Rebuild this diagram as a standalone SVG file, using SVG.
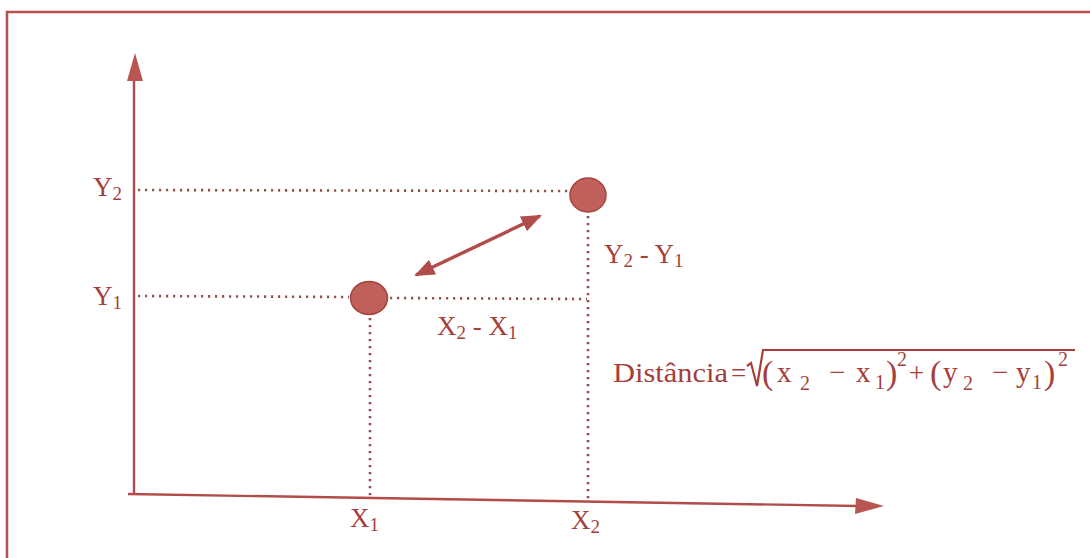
<svg xmlns="http://www.w3.org/2000/svg" width="1090" height="558" viewBox="0 0 1090 558">
<defs>
<style>
.axis{stroke:#b24c4a;stroke-width:2.4;fill:none}
.dot{stroke:#93504d;stroke-width:2.6;stroke-dasharray:2.2 4.8;fill:none}
.pt{fill:#c0605b;stroke:#a5433f;stroke-width:1.5}
.t{font-family:"Liberation Serif",serif;fill:#a53f3c}
.lab{font-size:27px}
.sub{font-size:19px}
.f{font-size:29px}
.fs{font-size:20px}
.p{font-size:34px}
</style>
<marker id="ah" viewBox="0 0 10 10" refX="9" refY="5" markerWidth="6" markerHeight="6" orient="auto-start-reverse" markerUnits="strokeWidth">
<path d="M0,1 L10,5 L0,9 Z" fill="#b24c4a"/>
</marker>
</defs>
<rect width="1090" height="558" fill="#ffffff"/>
<path d="M7,558 V12 H1090" fill="none" stroke="#b5504d" stroke-width="2.5"/>
<g id="connectors">
<line class="axis" x1="134" y1="78" x2="134" y2="495"/>
<polygon points="135,53 127,81 143,81" fill="#b95553"/>
<line class="axis" x1="128" y1="494" x2="858" y2="506"/>
<polygon points="884,506 856,498 855,514" fill="#b95553"/>
<line class="dot" x1="138" y1="190" x2="569" y2="191"/>
<line class="dot" x1="138" y1="296" x2="349" y2="297"/>
<line class="dot" x1="390" y1="298" x2="587" y2="299"/>
<line class="dot" x1="588" y1="216" x2="588" y2="499"/>
<line class="dot" x1="370" y1="318" x2="370" y2="497"/>
<line x1="416" y1="275" x2="540" y2="216" stroke="#b24c4a" stroke-width="3.4" marker-start="url(#ah)" marker-end="url(#ah)"/>
</g>
<g id="p1"><ellipse class="pt" cx="369" cy="298" rx="18.5" ry="16.5"/></g>
<g id="p2"><ellipse class="pt" cx="588" cy="195" rx="18" ry="17"/></g>
<g id="labels" class="t">
<text class="lab" x="93" y="196">Y<tspan class="sub" dy="4">2</tspan></text>
<text class="lab" x="93" y="305">Y<tspan class="sub" dy="4">1</tspan></text>
<text class="lab" x="437" y="335">X<tspan class="sub" dy="4">2</tspan><tspan dy="-4"> - X</tspan><tspan class="sub" dy="4">1</tspan></text>
<text class="lab" x="604" y="263">Y<tspan class="sub" dy="4">2</tspan><tspan dy="-4"> - Y</tspan><tspan class="sub" dy="4">1</tspan></text>
<text class="lab" x="350" y="527">X<tspan class="sub" dy="4">1</tspan></text>
<text class="lab" x="571" y="529">X<tspan class="sub" dy="4">2</tspan></text>
</g>
<g id="formula" class="t">
<text class="lab" x="613" y="382" textLength="115" lengthAdjust="spacingAndGlyphs">Distância</text>
<text class="lab" x="731" y="382">=</text>
<path d="M747,366 L751,363 L757,386 L763,350 H1075" fill="none" stroke="#a53f3c" stroke-width="2.2"/>
<text x="762" y="384" class="t p">(</text>
<text class="f" x="777" y="382">x</text>
<text class="t fs" x="800" y="390">2</text>
<text class="f" x="829" y="382">−</text>
<text class="f" x="856" y="382">x</text>
<text class="t fs" x="875" y="389">1</text>
<text x="886" y="384" class="t p">)</text>
<text class="t fs" x="897" y="366">2</text>
<text class="lab" x="909" y="382">+</text>
<text x="930" y="384" class="t p">(</text>
<text class="f" x="943" y="382">y</text>
<text class="t fs" x="963" y="390">2</text>
<text class="f" x="992" y="382">−</text>
<text class="f" x="1016" y="382">y</text>
<text class="t fs" x="1032" y="389">1</text>
<text x="1044" y="384" class="t p">)</text>
<text class="t fs" x="1058" y="366">2</text>
</g>
</svg>
